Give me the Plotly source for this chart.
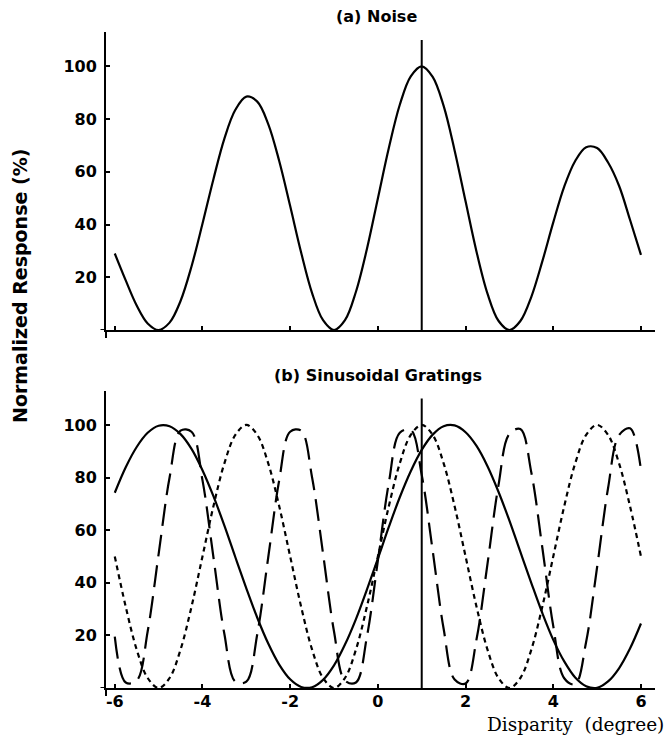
import plotly.graph_objects as go
from plotly.subplots import make_subplots

# ---------------- data ----------------
disparity = [-6.0, -5.75, -5.5, -5.25, -5.0, -4.75, -4.5, -4.25, -4.0, -3.75, -3.5, -3.25,
             -3.0, -2.75, -2.5, -2.25, -2.0, -1.75, -1.5, -1.25, -1.0, -0.75, -0.5, -0.25,
             0.0, 0.25, 0.5, 0.75, 1.0, 1.25, 1.5, 1.75, 2.0, 2.25, 2.5, 2.75,
             3.0, 3.25, 3.5, 3.75, 4.0, 4.25, 4.5, 4.75, 5.0, 5.25, 5.5, 5.75, 6.0]

noise_response = [29.0, 18.8, 9.3, 2.5, 0.0, 2.8, 11.0, 24.1, 40.3, 57.2, 72.6, 83.5,
                  88.5, 86.6, 78.1, 64.1, 47.0, 29.4, 14.0, 3.7, 0.0, 3.7, 14.5, 30.7,
                  49.9, 69.0, 85.4, 96.2, 100.0, 96.0, 85.0, 68.1, 48.8, 29.7, 13.8, 3.5,
                  0.0, 3.4, 12.6, 26.0, 40.8, 54.4, 64.1, 69.3, 69.0, 63.5, 54.7, 41.8, 28.5]

grating_low = [74.2, 83.9, 91.6, 97.0, 99.7, 99.5, 96.5, 90.9, 82.8, 72.9, 61.7, 49.7,
               37.9, 26.7, 16.9, 8.9, 3.3, 0.4, 0.3, 3.1, 8.6, 16.5, 26.2, 37.4,
               49.2, 61.2, 72.5, 82.4, 90.5, 96.3, 99.5, 99.8, 97.2, 92.0, 84.3, 74.6,
               63.6, 51.7, 39.9, 28.5, 18.3, 10.1, 4.0, 0.7, 0.1, 2.5, 7.5, 15.0, 24.5]

grating_mid = [50.0, 30.9, 14.6, 3.8, 0.0, 3.8, 14.6, 30.9, 50.0, 69.1, 85.4, 96.2,
               100.0, 96.2, 85.4, 69.1, 50.0, 30.9, 14.6, 3.8, 0.0, 3.8, 14.6, 30.9,
               50.0, 69.1, 85.4, 96.2, 100.0, 96.2, 85.4, 69.1, 50.0, 30.9, 14.6, 3.8,
               0.0, 3.8, 14.6, 30.9, 50.0, 69.1, 85.4, 96.2, 100.0, 96.2, 85.4, 69.1, 50.0]

grating_high = [19.5, 2.1, 2.8, 21.5, 50.9, 80.0, 97.8, 97.4, 79.0, 49.7, 20.5, 2.4,
                2.4, 20.5, 49.7, 79.0, 97.4, 97.8, 80.0, 51.0, 21.5, 2.8, 2.1, 19.5,
                48.4, 78.0, 97.0, 98.1, 81.0, 52.2, 22.5, 3.2, 1.7, 18.5, 47.2, 77.0,
                96.6, 98.4, 81.9, 53.4, 23.5, 3.7, 1.4, 17.6, 46.0, 76.0, 96.1, 98.7, 82.9]

marker_x = [1, 1]
marker_y = [0, 110]

x_ticks = [-6, -4, -2, 0, 2, 4, 6]
x_ticklabels = ["-6", "-4", "-2", "0", "2", "4", "6"]
y_ticks = [20, 40, 60, 80, 100]
y_ticklabels = ["20", "40", "60", "80", "100"]

title_a = "(a) Noise"
title_b = "(b) Sinusoidal Gratings"
y_title = "Normalized Response (%)"
x_title = "Disparity\u00a0\u00a0(degree)"

# ---------------- figure ----------------
W, H = 667, 736
fig = make_subplots(rows=2, cols=1, shared_xaxes=False, vertical_spacing=0.0)

BLK = "black"
LW = 2.2

fig.add_trace(go.Scatter(x=disparity, y=noise_response, mode="lines",
                         line=dict(color=BLK, width=LW, shape="spline", smoothing=1.0),
                         showlegend=False), row=1, col=1)
fig.add_trace(go.Scatter(x=marker_x, y=marker_y, mode="lines",
                         line=dict(color=BLK, width=2), showlegend=False), row=1, col=1)

fig.add_trace(go.Scatter(x=disparity, y=grating_low, mode="lines",
                         line=dict(color=BLK, width=LW, shape="spline", smoothing=1.0),
                         showlegend=False), row=2, col=1)
fig.add_trace(go.Scatter(x=disparity, y=grating_mid, mode="lines",
                         line=dict(color=BLK, width=LW, dash="5px,4px", shape="spline", smoothing=1.0),
                         showlegend=False), row=2, col=1)
fig.add_trace(go.Scatter(x=disparity, y=grating_high, mode="lines",
                         line=dict(color=BLK, width=LW, dash="22px,9px", shape="spline", smoothing=1.0),
                         showlegend=False), row=2, col=1)
fig.add_trace(go.Scatter(x=marker_x, y=marker_y, mode="lines",
                         line=dict(color=BLK, width=2), showlegend=False), row=2, col=1)

tick_font = dict(family="DejaVu Sans", size=16, color=BLK, weight="bold")

common_x = dict(range=[-6.2, 6.32], showgrid=False, zeroline=False, showline=True,
                linecolor=BLK, linewidth=2, ticks="inside", ticklen=4, tickwidth=1.5,
                tickcolor=BLK, tickvals=x_ticks, ticktext=x_ticklabels,
                tickfont=tick_font)
common_y = dict(range=[0, 113], showgrid=False, zeroline=False, showline=True,
                linecolor=BLK, linewidth=2, ticks="inside", ticklen=4, tickwidth=1.5,
                tickcolor=BLK, tickvals=y_ticks, ticktext=y_ticklabels,
                tickfont=tick_font, ticklabelstandoff=4)

top_dom = [1 - 298 / 656, 1.0]
bot_dom = [0.0, 297.3 / 656]

fig.update_layout(
    width=W, height=H,
    margin=dict(l=106, r=12, t=32, b=48),
    paper_bgcolor="white", plot_bgcolor="white",
    xaxis=dict(common_x, showticklabels=False, anchor="y"),
    yaxis=dict(common_y, domain=top_dom, anchor="x"),
    xaxis2=dict(common_x, showticklabels=True, anchor="y2", ticklabelstandoff=-2),
    yaxis2=dict(common_y, domain=bot_dom, anchor="x2"),
)

# axis overhangs (crossing axes)
for xr, yr in (("x", "y"), ("x2", "y2")):
    fig.add_shape(type="line", xref=f"{xr} domain", yref=yr, x0=-0.01, x1=0.0, y0=0, y1=0,
                  line=dict(color=BLK, width=2))
    fig.add_shape(type="line", xref=f"{xr} domain", yref=f"{yr} domain", x0=0, x1=0,
                  y0=-0.027, y1=0.0, line=dict(color=BLK, width=2))

bold = dict(family="DejaVu Sans", size=16, color=BLK)
fig.add_annotation(text="<b>" + title_a + "</b>", xref="paper", yref="paper",
                   x=0.493, y=(688 - 16.7) / 656, xanchor="center", yanchor="middle",
                   showarrow=False, font=bold)
fig.add_annotation(text="<b>" + title_b + "</b>", xref="paper", yref="paper",
                   x=0.495, y=(688 - 375) / 656, xanchor="center", yanchor="middle",
                   showarrow=False, font=bold)
fig.add_annotation(text="<b>" + y_title + "</b>", xref="paper", yref="paper",
                   x=(20 - 106) / 549, y=(688 - 286) / 656, xanchor="center", yanchor="middle",
                   textangle=-90, showarrow=False,
                   font=dict(family="DejaVu Sans", size=19, color=BLK))
fig.add_annotation(text=x_title, xref="paper", yref="paper",
                   x=(665 - 106) / 549, y=(688 - 713) / 656, xanchor="right", yanchor="top",
                   showarrow=False, borderpad=0,
                   font=dict(family="DejaVu Serif", size=18.5, color=BLK))

fig.write_html("out.html")
